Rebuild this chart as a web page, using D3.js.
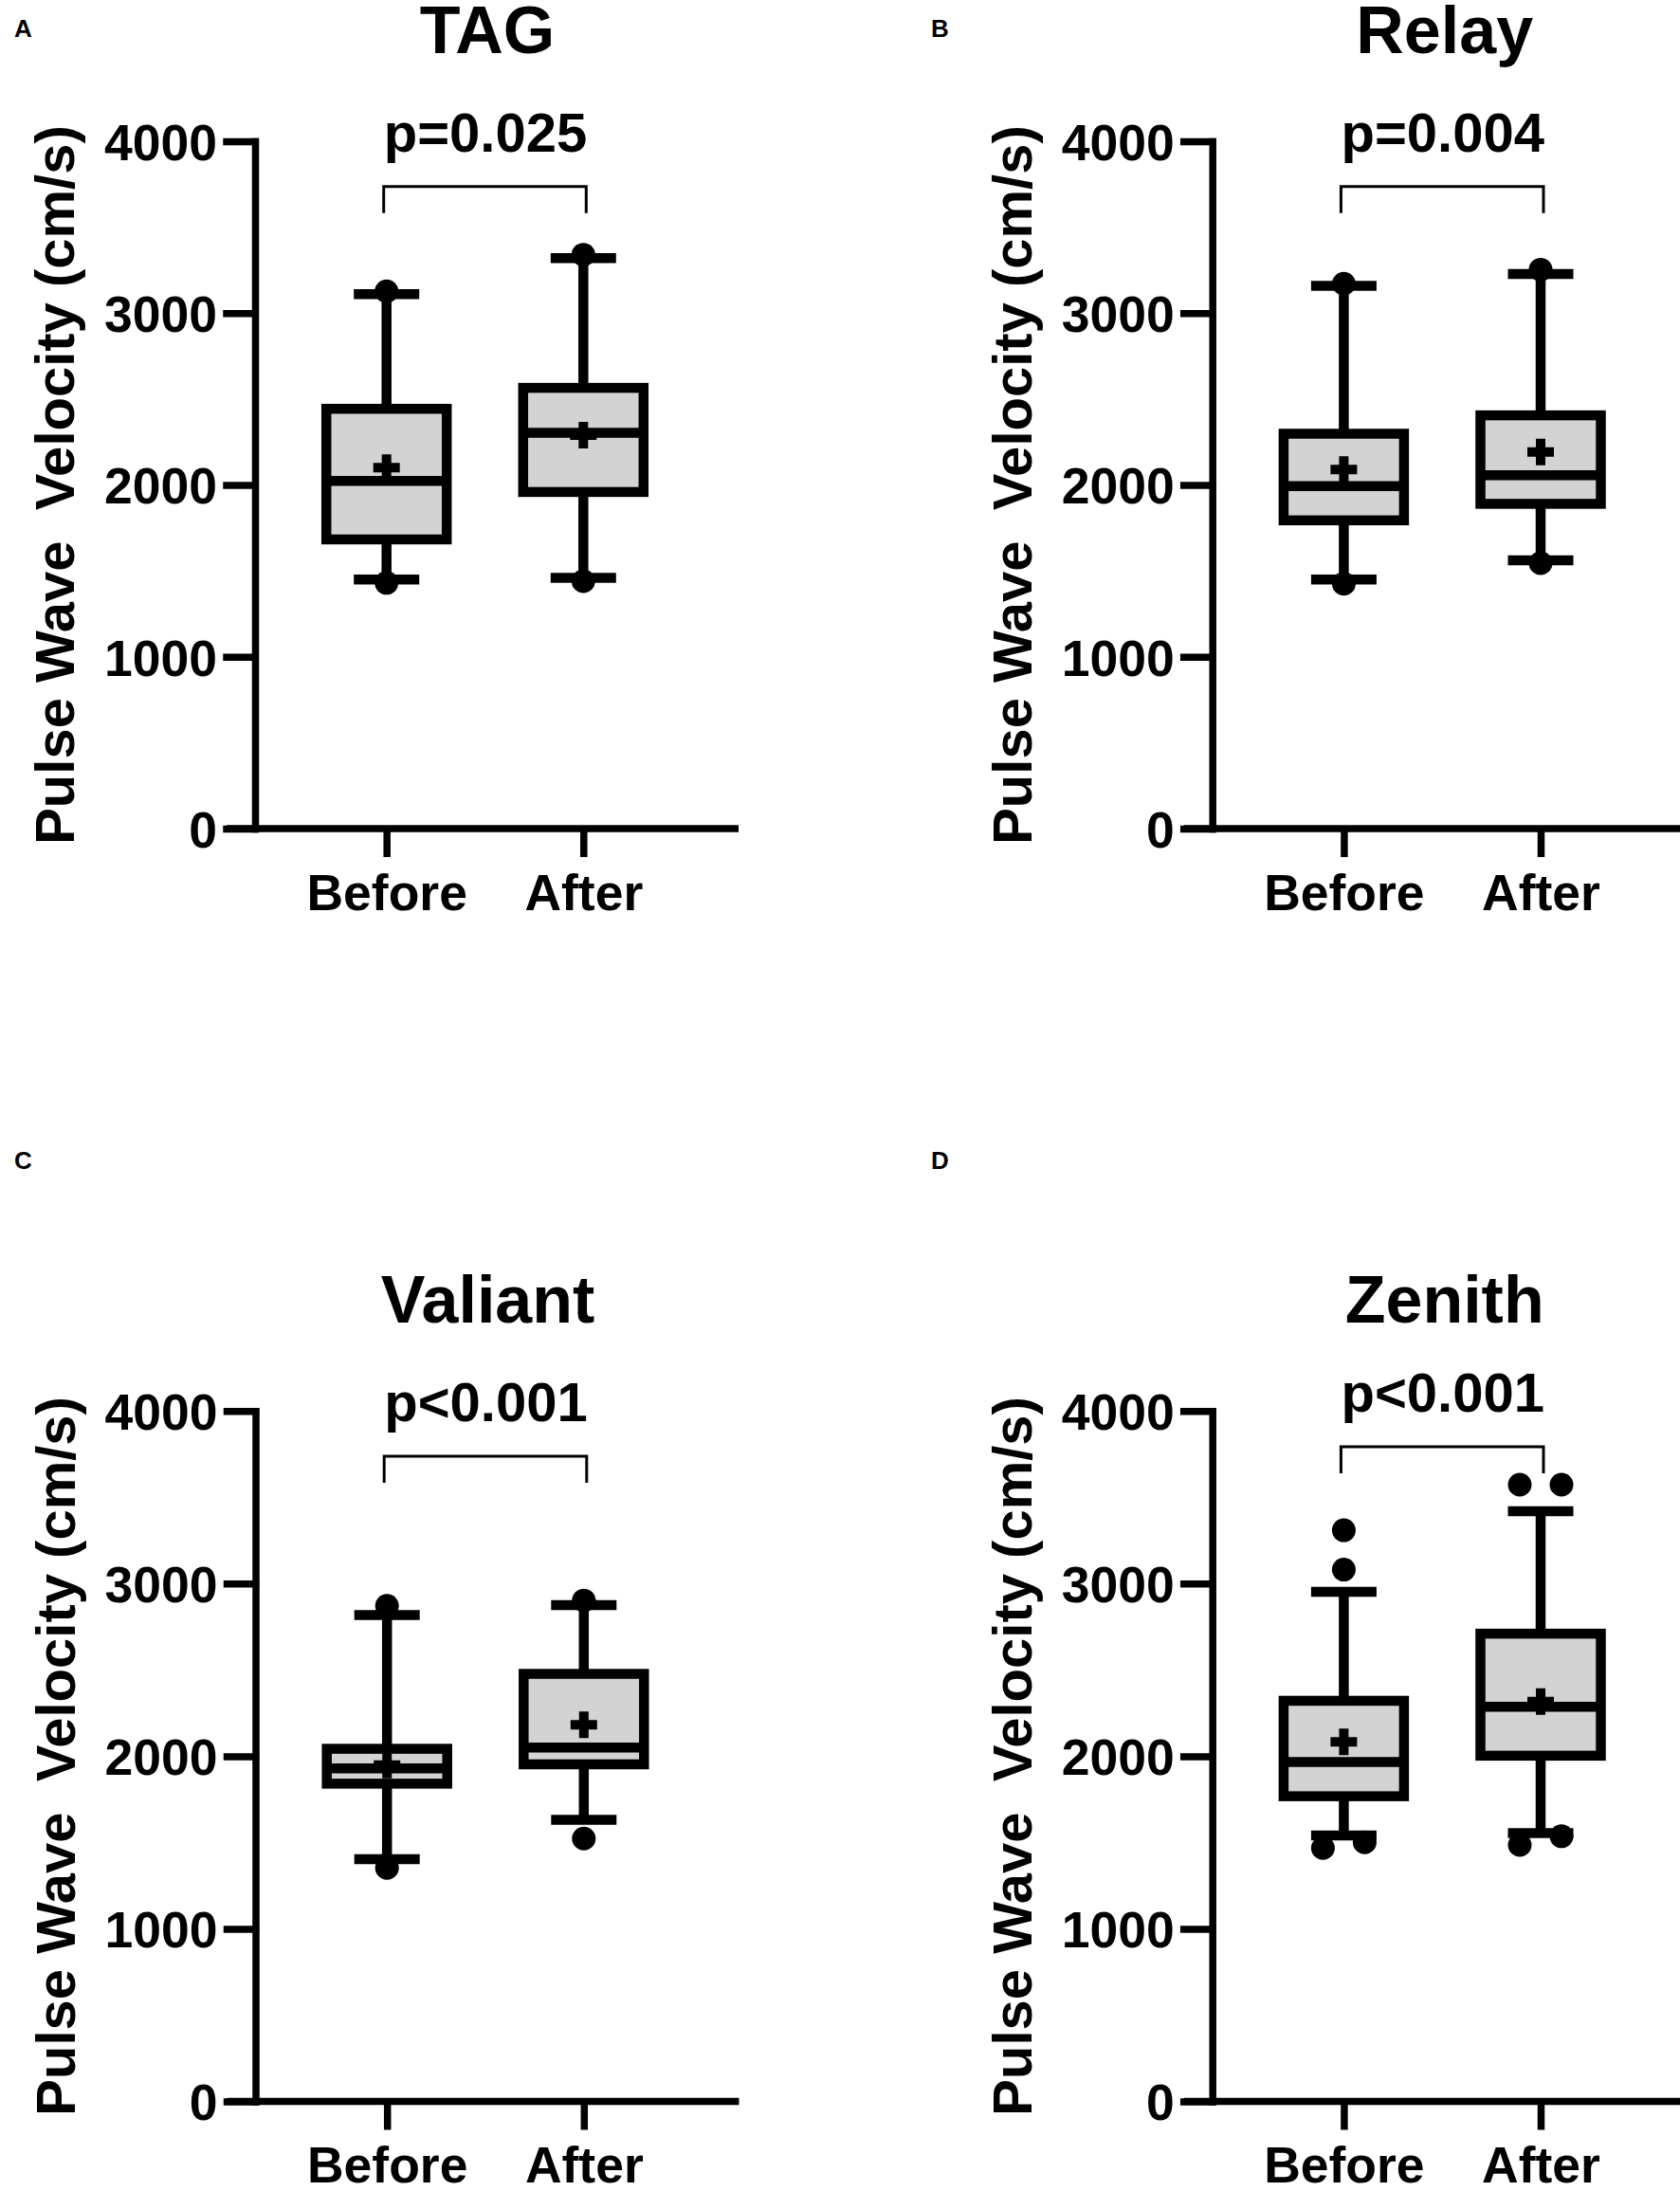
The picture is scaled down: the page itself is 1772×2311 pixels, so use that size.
<!DOCTYPE html>
<html>
<head>
<meta charset="utf-8">
<script src="https://cdn.jsdelivr.net/npm/d3@7"></script>
<style>
  body { margin: 0; background: #fff; }
  text { font-family: Arial, "Liberation Sans", sans-serif; font-weight: bold; fill: #000; }
</style>
</head>
<body>
<div id="chart"></div>
<script>
// Chart data (cm/s), one entry per panel, [Before, After]
var categories = ["Before", "After"];
var titles = ["TAG", "Relay", "Valiant", "Zenith"];
var letters = ["A", "B", "C", "D"];
var pLabels = ["p=0.025", "p=0.004", "p<0.001", "p<0.001"];
var yTicks = [0, 1000, 2000, 3000, 4000];

var whiskerLow  = [[1450, 1460], [1450, 1561], [1404, 1631], [1541, 1554]];
var q1          = [[1683, 1959], [1794, 1890], [1841, 1953], [1768, 2003]];
var median      = [[2024, 2303], [1993, 2056], [1930, 2050], [1966, 2287]];
var q3          = [[2443, 2565], [2298, 2405], [2043, 2477], [2321, 2710]];
var whiskerHigh = [[3111, 3320], [3159, 3228], [2818, 2875], [2953, 3420]];
var means       = [[2101, 2290], [2090, 2192], [1949, 2182], [2083, 2316]];
var outliers    = [
    [[1430, 3127], [1440, 3340]],
    [[1425, 3171], [1545, 3253]],
    [[1353, 2871], [1523, 2902]],
    [[1468, 1501, 3081, 3309], [1486, 1536, 3573, 3573]]
];

// Panel placement on the page
var width = 1772,
    height = 2311;
var panels = [
    { ax: 269,    top: 149,    bottom: 874,    lx: 15,  ly: 39,   raise: 0 },
    { ax: 1278.7, top: 149,    bottom: 874,    lx: 982, ly: 39,   raise: 0 },
    { ax: 269.5,  top: 1488.3, bottom: 2216.5, lx: 15,  ly: 1233, raise: 0 },
    { ax: 1278.7, top: 1488.3, bottom: 2216.5, lx: 982, ly: 1233, raise: 10 }
];

var svg = d3.select("#chart")
    .append("svg")
    .attr("width", width)
    .attr("height", height);

svg.append("rect")
    .attr("width", width)
    .attr("height", height)
    .attr("fill", "#fff");

var axisWidth = 7.5,
    boxStroke = 10.5,
    boxHalf = 63.5,
    capHalf = 34.5,
    plusHalf = 14;

// Spread points that would overlap side by side
function dodge(values) {
    var v = values.slice().sort(function(a, b) { return a - b; });
    var out = [];
    for (var i = 0; i < v.length; i++) {
        if (i + 1 < v.length && v[i + 1] - v[i] < 138) {
            out.push({ value: v[i], dx: -22 });
            out.push({ value: v[i + 1], dx: 22 });
            i++;
        } else {
            out.push({ value: v[i], dx: 0 });
        }
    }
    return out;
}

panels.forEach(function(L, p) {
    var g = svg.append("g");

    var y = d3.scaleLinear()
        .domain([0, 4000])
        .range([L.bottom, L.top]);
    var x = d3.scalePoint()
        .domain(categories)
        .range([L.ax + 138.7, L.ax + 346.3]);

    // Y axis
    var yAxis = g.append("g")
        .attr("transform", "translate(" + L.ax + ",0)")
        .call(d3.axisLeft(y)
            .tickValues(yTicks)
            .tickFormat(d3.format("d"))
            .tickSize(30)
            .tickSizeOuter(0)
            .tickPadding(10));
    yAxis.selectAll("path, line")
        .attr("stroke", "#000")
        .attr("stroke-width", axisWidth)
        .attr("stroke-linecap", "square");
    yAxis.selectAll("text")
        .attr("font-size", 53.5)
        .attr("font-family", null)
        .attr("dy", "0.36em");

    // X axis
    var xAxis = g.append("g")
        .attr("transform", "translate(0," + L.bottom + ")")
        .call(d3.axisBottom(x).tickSize(30).tickSizeOuter(0).tickPadding(18));
    xAxis.select(".domain").remove();
    xAxis.selectAll("line")
        .attr("stroke", "#000")
        .attr("stroke-width", axisWidth);
    xAxis.selectAll("text")
        .attr("font-size", 53.5)
        .attr("font-family", null);
    g.append("line")
        .attr("x1", L.ax - 30)
        .attr("x2", L.ax + 510)
        .attr("y1", y(0))
        .attr("y2", y(0))
        .attr("stroke", "#000")
        .attr("stroke-width", axisWidth);

    // Boxes
    var rows = categories.map(function(c, j) {
        return {
            cat: c,
            low: whiskerLow[p][j], q1: q1[p][j], med: median[p][j],
            q3: q3[p][j], high: whiskerHigh[p][j], mean: means[p][j],
            pts: dodge(outliers[p][j])
        };
    });

    var box = g.selectAll(".box")
        .data(rows)
        .enter()
        .append("g")
        .attr("class", "box");

    box.append("line")
        .attr("x1", function(d) { return x(d.cat); })
        .attr("x2", function(d) { return x(d.cat); })
        .attr("y1", function(d) { return y(d.q3); })
        .attr("y2", function(d) { return y(d.high); });
    box.append("line")
        .attr("x1", function(d) { return x(d.cat); })
        .attr("x2", function(d) { return x(d.cat); })
        .attr("y1", function(d) { return y(d.q1); })
        .attr("y2", function(d) { return y(d.low); });
    box.append("line")
        .attr("x1", function(d) { return x(d.cat) - capHalf; })
        .attr("x2", function(d) { return x(d.cat) + capHalf; })
        .attr("y1", function(d) { return y(d.high); })
        .attr("y2", function(d) { return y(d.high); });
    box.append("line")
        .attr("x1", function(d) { return x(d.cat) - capHalf; })
        .attr("x2", function(d) { return x(d.cat) + capHalf; })
        .attr("y1", function(d) { return y(d.low); })
        .attr("y2", function(d) { return y(d.low); });
    box.append("rect")
        .attr("x", function(d) { return x(d.cat) - boxHalf; })
        .attr("y", function(d) { return y(d.q3); })
        .attr("width", boxHalf * 2)
        .attr("height", function(d) { return y(d.q1) - y(d.q3); })
        .attr("fill", "#d3d3d3");
    box.append("line")
        .attr("x1", function(d) { return x(d.cat) - boxHalf; })
        .attr("x2", function(d) { return x(d.cat) + boxHalf; })
        .attr("y1", function(d) { return y(d.med); })
        .attr("y2", function(d) { return y(d.med); });
    box.selectAll("line")
        .attr("stroke", "#000")
        .attr("stroke-width", boxStroke);
    box.select("rect")
        .attr("stroke", "#000")
        .attr("stroke-width", boxStroke);

    // Mean marker
    box.append("path")
        .attr("d", function(d) {
            var cx = x(d.cat), cy = y(d.mean);
            return "M" + (cx - plusHalf) + "," + cy + "H" + (cx + plusHalf) +
                "M" + cx + "," + (cy - plusHalf) + "V" + (cy + plusHalf);
        })
        .attr("stroke", "#000")
        .attr("stroke-width", 10)
        .attr("fill", "none");

    // Points beyond the whiskers
    box.selectAll("circle")
        .data(function(d) { return d.pts.map(function(pt) { return { cat: d.cat, value: pt.value, dx: pt.dx }; }); })
        .enter()
        .append("circle")
        .attr("cx", function(d) { return x(d.cat) + d.dx; })
        .attr("cy", function(d) { return y(d.value); })
        .attr("r", 12.5)
        .attr("fill", "#000");

    // Significance bracket
    var yb = L.top + 47.7 - L.raise;
    var x1 = x(categories[0]) - 3,
        x2 = x(categories[1]) + 3;
    g.append("path")
        .attr("d", "M" + x1 + "," + (yb + 28) + "V" + yb + "H" + x2 + "V" + (yb + 28))
        .attr("fill", "none")
        .attr("stroke", "#000")
        .attr("stroke-width", 3);
    g.append("text")
        .attr("x", L.ax + 243)
        .attr("y", L.top + 11 - L.raise)
        .attr("text-anchor", "middle")
        .attr("font-size", 58)
        .text(pLabels[p]);

    // Titles and labels
    g.append("text")
        .attr("x", L.ax + 245)
        .attr("y", L.top - 93)
        .attr("text-anchor", "middle")
        .attr("font-size", 70)
        .text(titles[p]);
    g.append("text")
        .attr("x", L.lx)
        .attr("y", L.ly)
        .attr("font-size", 26)
        .text(letters[p]);
    g.append("text")
        .attr("transform", "translate(" + (L.ax - 191) + "," + ((L.top + L.bottom) / 2) + ") rotate(-90)")
        .attr("text-anchor", "middle")
        .attr("font-size", 58)
        .style("white-space", "pre")
        .text("Pulse Wave  Velocity (cm/s)");
});
</script>
</body>
</html>
